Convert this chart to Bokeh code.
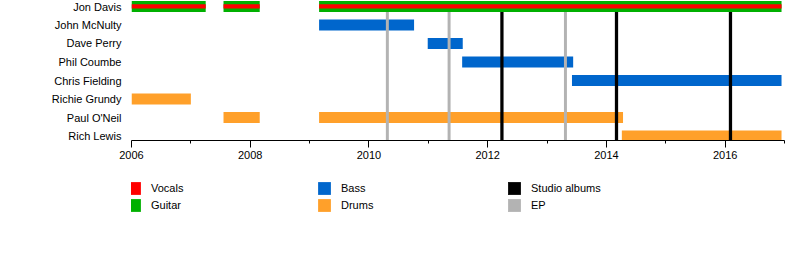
from bokeh.plotting import figure
from bokeh.layouts import column
from bokeh.models import FixedTicker, Legend, LegendItem, ColumnDataSource
from bokeh.embed import file_html
from bokeh.resources import INLINE

members = ["Jon Davis", "John McNulty", "Dave Perry", "Phil Coumbe",
           "Chris Fielding", "Richie Grundy", "Paul O'Neil", "Rich Lewis"]
ypos = {m: len(members) - 1 - i for i, m in enumerate(members)}

# (member, start, end)
guitar_vocal_spans = [("Jon Davis", 2006.0, 2007.25), ("Jon Davis", 2007.55, 2008.16),
                      ("Jon Davis", 2009.16, 2016.95)]
bass_spans = [("John McNulty", 2009.16, 2010.76), ("Dave Perry", 2010.99, 2011.58),
              ("Phil Coumbe", 2011.57, 2013.44), ("Chris Fielding", 2013.42, 2016.95)]
drum_spans = [("Richie Grundy", 2006.0, 2007.0), ("Paul O'Neil", 2007.55, 2008.16),
              ("Paul O'Neil", 2009.16, 2014.28), ("Rich Lewis", 2014.26, 2016.95)]
studio_albums = [2012.24, 2014.17, 2016.09]
eps = [2010.31, 2011.35, 2013.31]

x_ticks_major = [2006, 2008, 2010, 2012, 2014, 2016]
x_ticks_minor = [2007, 2009, 2011, 2013, 2015, 2017]

legend_labels = ["Vocals", "Guitar", "Bass", "Drums", "Studio albums", "EP"]

C_VOC = "#FF0000"
C_GTR = "#00B000"
C_BASS = "#0066CC"
C_DRUM = "#FFA02A"
C_STUDIO = "#000000"
C_EP = "#B3B3B3"
legend_colors = [C_VOC, C_GTR, C_BASS, C_DRUM, C_STUDIO, C_EP]
FONT = "Liberation Sans"


def src(spans):
    return ColumnDataSource(dict(y=[ypos[s[0]] for s in spans],
                                 left=[s[1] for s in spans],
                                 right=[s[2] for s in spans]))


p = figure(width=800, height=170, x_range=(2006, 2017), y_range=(-0.24, 7.32),
           output_backend="svg", toolbar_location=None,
           min_border_left=131, min_border_right=16, min_border_top=0,
           min_border_bottom=30)
p.outline_line_color = None
p.xgrid.visible = False
p.ygrid.visible = False

BH = 0.595
p.hbar(y="y", left="left", right="right", height=BH, source=src(bass_spans),
       fill_color=C_BASS, line_color=None)
p.hbar(y="y", left="left", right="right", height=BH, source=src(drum_spans),
       fill_color=C_DRUM, line_color=None)

n_ep = len(eps)
p.vbar(x=eps, width=0.05, bottom=[-0.3] * n_ep, top=[7.0] * n_ep,
       fill_color=C_EP, line_color=None)
n_st = len(studio_albums)
p.vbar(x=studio_albums, width=0.055, bottom=[-0.3] * n_st, top=[7.0] * n_st,
       fill_color=C_STUDIO, line_color=None)

p.hbar(y="y", left="left", right="right", height=BH, source=src(guitar_vocal_spans),
       fill_color=C_GTR, line_color=None)
p.hbar(y="y", left="left", right="right", height=0.235, source=src(guitar_vocal_spans),
       fill_color=C_VOC, line_color=None)

# x axis
xa = p.xaxis[0]
xa.ticker = FixedTicker(ticks=x_ticks_major, minor_ticks=x_ticks_minor)
xa.major_tick_out = 7
xa.major_tick_in = 0
xa.minor_tick_out = 3
xa.minor_tick_in = 0
xa.major_label_standoff = 3
xa.major_label_text_font = FONT
xa.major_label_text_font_size = "11px"
xa.major_label_text_color = "#000000"
xa.axis_line_color = "#000000"

# y axis
ya = p.yaxis[0]
ya.ticker = FixedTicker(ticks=list(ypos.values()), minor_ticks=[])
ya.major_label_overrides = {v: k for k, v in ypos.items()}
ya.axis_line_color = None
ya.major_tick_line_color = None
ya.major_tick_out = 0
ya.major_tick_in = 0
ya.minor_tick_line_color = None
ya.major_label_standoff = 10
ya.major_label_text_font = FONT
ya.major_label_text_font_size = "11px"
ya.major_label_text_color = "#000000"

# legend panel (swatches are zero-size placeholders; the legend draws them)
q = figure(width=800, height=90, x_range=(0, 1), y_range=(0, 1),
           output_backend="svg", toolbar_location=None,
           min_border=0, min_border_left=0, min_border_right=0,
           min_border_top=0, min_border_bottom=0)
q.axis.visible = False
q.grid.visible = False
q.outline_line_color = None
items = []
for lab, col in zip(legend_labels, legend_colors):
    r = q.quad(left=[0], right=[0], bottom=[0], top=[0], fill_color=col, line_color=None)
    items.append(LegendItem(label=lab, renderers=[r]))

legend = Legend(items=items, location=(-5, 47), orientation="vertical", ncols=3,
                glyph_width=16, glyph_height=16, label_height=16, label_width=164,
                label_standoff=9, spacing=1, padding=0, margin=0,
                border_line_color=None, background_fill_alpha=0,
                label_text_font=FONT, label_text_font_size="11px",
                label_text_color="#000000")
q.add_layout(legend)

layout = column(p, q, spacing=0)
open("out.html", "w").write(file_html(layout, INLINE))
